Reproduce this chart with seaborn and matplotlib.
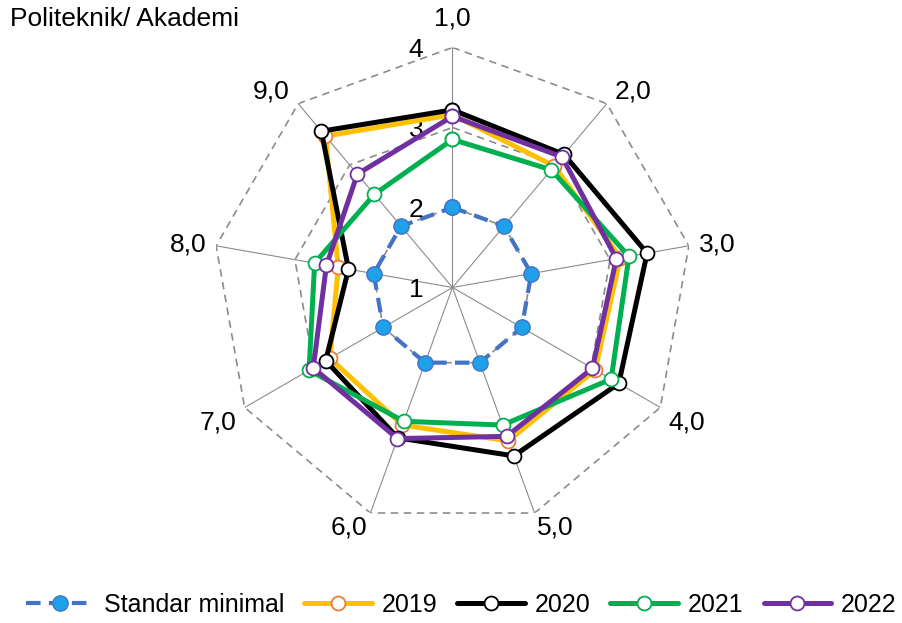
import numpy as np
import pandas as pd
import matplotlib
matplotlib.use("Agg")
import matplotlib.pyplot as plt
import seaborn as sns

# Data
kategori = ['1,0', '2,0', '3,0', '4,0', '5,0', '6,0', '7,0', '8,0', '9,0']
standar_minimal = [2, 2, 2, 2, 2, 2, 2, 2, 2]
th_2019 = [3.16, 2.98, 3.13, 3.06, 3.04, 2.83, 2.77, 2.45, 3.47]
th_2020 = [3.22, 3.17, 3.47, 3.40, 3.24, 3.00, 2.83, 2.32, 3.55]
th_2021 = [2.85, 2.92, 3.24, 3.29, 2.83, 2.78, 3.07, 2.75, 2.52]
th_2022 = [3.14, 3.13, 3.08, 3.02, 2.98, 3.01, 3.01, 2.60, 2.85]
ring_ticks = [1, 2, 3, 4]
judul = 'Politeknik/ Akademi'

sns.set_style("white")
plt.rcParams['font.family'] = ['Liberation Sans', 'DejaVu Sans']
plt.rcParams['text.color'] = 'black'
fs = 19

n = len(kategori)
theta = np.linspace(0, 2 * np.pi, n, endpoint=False)
theta_c = np.append(theta, 2 * np.pi)

fig = plt.figure(figsize=(9.03, 6.23), dpi=100)
ax = fig.add_axes([0.2353, 0.1533, 0.5316, 0.7705], projection='polar')
ax.set_theta_offset(np.pi / 2)
ax.set_theta_direction(-1)
ax.set_ylim(1, 4)
ax.grid(False)
ax.spines['polar'].set_visible(False)
ax.set_xticks([])
ax.set_yticks([])
ax.set_facecolor('none')

# Gitter: Speichen und gestrichelte Polygone
grid_col = '#8c8c8c'
for t in theta:
    ax.plot([t, t], [1, 4], color=grid_col, lw=0.8, zorder=1)
for r in ring_ticks[1:]:
    ax.plot(theta_c, [r] * (n + 1), color=grid_col, lw=1.2, ls=(0, (4.5, 3.3)), zorder=1)

series = [
    ('Standar minimal', standar_minimal, '#4472C4', '#1EA1E8', '#4472C4'),
    ('2019', th_2019, '#FFC000', 'white', '#ED7D31'),
    ('2020', th_2020, '#000000', 'white', '#000000'),
    ('2021', th_2021, '#00B050', 'white', '#00B050'),
    ('2022', th_2022, '#7030A0', 'white', '#7030A0'),
]

for i, (name, vals, col, mfc, mec) in enumerate(series):
    df = pd.DataFrame({'theta': theta_c, 'nilai': np.append(vals, vals[0])})
    if i == 0:
        sns.lineplot(data=df, x='theta', y='nilai', sort=False, estimator=None, ax=ax,
                     color=col, lw=3.0, dashes=False, linestyle=(0, (3.5, 2)),
                     marker='o', markersize=11, markerfacecolor=mfc,
                     markeredgecolor=mec, markeredgewidth=1.0,
                     label=name, legend=False, zorder=3 + i)
    else:
        sns.lineplot(data=df, x='theta', y='nilai', sort=False, estimator=None, ax=ax,
                     color=col, lw=3.6, marker='o', markersize=10,
                     markerfacecolor=mfc, markeredgecolor=mec, markeredgewidth=1.3,
                     label=name, legend=False, zorder=3 + i)
ax.set_xlabel('')
ax.set_ylabel('')
ax.set_ylim(1, 4)

# Kategorie-Beschriftungen
pos = {
    0: (0, 12, 'center', 'bottom'),
    1: (6, 0, 'left', 'bottom'),
    2: (7, 1, 'left', 'center'),
    3: (6, -2, 'left', 'top'),
    4: (2, -2, 'left', 'top'),
    5: (-2, -2, 'right', 'top'),
    6: (-6, -2, 'right', 'top'),
    7: (-7, 1, 'right', 'center'),
    8: (-6, 0, 'right', 'bottom'),
}
for k, lab in enumerate(kategori):
    dx, dy, ha, va = pos[k]
    ax.annotate(lab, xy=(theta[k], 4), xytext=(dx, dy), textcoords='offset points',
                ha=ha, va=va, fontsize=fs, annotation_clip=False)

for r in ring_ticks:
    ax.annotate(str(r), xy=(0, r), xytext=(-21, -1.5), textcoords='offset points',
                ha='right', va='center', fontsize=fs, annotation_clip=False)

fig.text(10 / 903, 1 - 7 / 623, judul, ha='left', va='top', fontsize=fs)

handles, labels = ax.get_legend_handles_labels()
namen = [s[0] for s in series]
handles = [h for h, l in zip(handles, labels) if l in namen]
labels = [l for l in labels if l in namen]
fig.legend(handles, labels, loc='center', bbox_to_anchor=(0.511, 1 - 605 / 623), ncol=5,
           frameon=False, fontsize=18, handlelength=2.7, handletextpad=0.4,
           columnspacing=0.8, numpoints=1)

fig.savefig('out.png', dpi=100)
